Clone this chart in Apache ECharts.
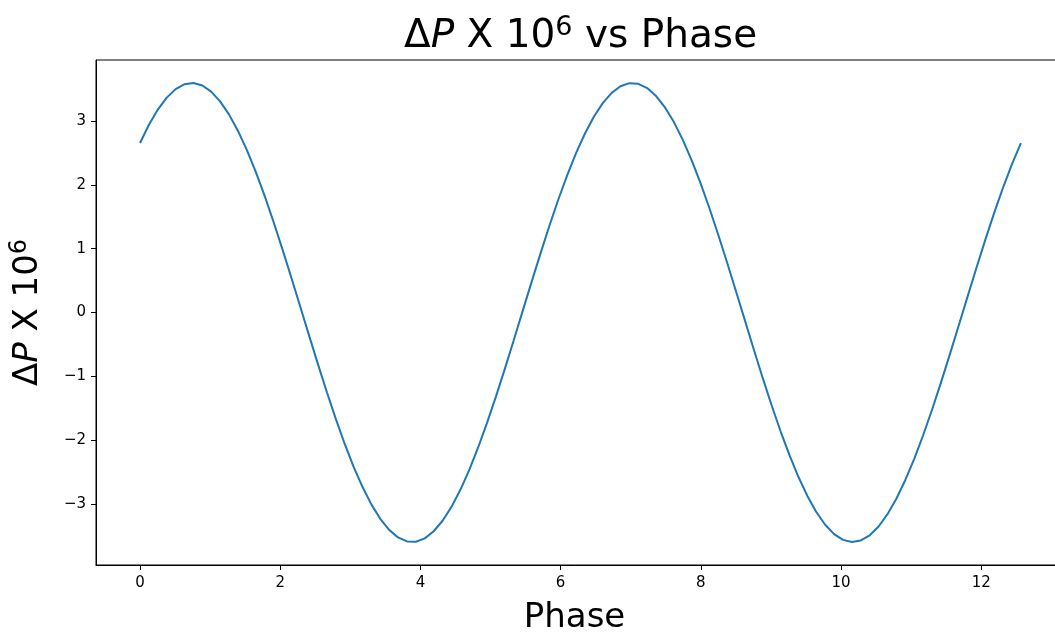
<!DOCTYPE html>
<html>
<head>
<meta charset="utf-8">
<script src="https://cdn.jsdelivr.net/npm/echarts@6/dist/echarts.min.js"></script>
<style>
  html, body { margin: 0; padding: 0; background: #ffffff; }
  #chart { width: 1055px; height: 633px; }
</style>
</head>
<body>
<div id="chart"></div>
<script>
// Phase samples (radians, 0 … 4π) and the pressure change ΔP (× 10^6) at each sample
const phase = [
  0.000, 0.127, 0.254, 0.381, 0.508, 0.635, 0.762, 0.889, 1.015, 1.142,
  1.269, 1.396, 1.523, 1.650, 1.777, 1.904, 2.031, 2.158, 2.285, 2.412,
  2.539, 2.666, 2.793, 2.919, 3.046, 3.173, 3.300, 3.427, 3.554, 3.681,
  3.808, 3.935, 4.062, 4.189, 4.316, 4.443, 4.570, 4.697, 4.823, 4.950,
  5.077, 5.204, 5.331, 5.458, 5.585, 5.712, 5.839, 5.966, 6.093, 6.220,
  6.347, 6.474, 6.601, 6.728, 6.854, 6.981, 7.108, 7.235, 7.362, 7.489,
  7.616, 7.743, 7.870, 7.997, 8.124, 8.251, 8.378, 8.505, 8.632, 8.758,
  8.885, 9.012, 9.139, 9.266, 9.393, 9.520, 9.647, 9.774, 9.901, 10.028,
  10.155, 10.282, 10.409, 10.536, 10.663, 10.789, 10.916, 11.043, 11.170, 11.297,
  11.424, 11.551, 11.678, 11.805, 11.932, 12.059, 12.186, 12.313, 12.440, 12.566
];
const deltaP = [
  2.658, 2.944, 3.183, 3.370, 3.503, 3.580, 3.599, 3.560, 3.464, 3.312,
  3.107, 2.852, 2.551, 2.209, 1.832, 1.424, 0.994, 0.548, 0.094, -0.363,
  -0.813, -1.251, -1.668, -2.058, -2.416, -2.734, -3.009, -3.235, -3.409, -3.528,
  -3.590, -3.595, -3.542, -3.431, -3.266, -3.048, -2.781, -2.469, -2.117, -1.732,
  -1.319, -0.884, -0.435, 0.021, 0.476, 0.924, 1.357, 1.768, 2.151, 2.499,
  2.807, 3.070, 3.283, 3.444, 3.549, 3.597, 3.587, 3.519, 3.395, 3.216,
  2.986, 2.707, 2.385, 2.024, 1.631, 1.212, 0.773, 0.322, -0.135, -0.589,
  -1.034, -1.462, -1.867, -2.242, -2.580, -2.877, -3.128, -3.328, -3.475, -3.566,
  -3.600, -3.575, -3.494, -3.356, -3.163, -2.921, -2.630, -2.298, -1.929, -1.529,
  -1.104, -0.661, -0.208, 0.249, 0.702, 1.143, 1.566, 1.964, 2.330, 2.658
];
const xTicks = [0, 2, 4, 6, 8, 10, 12];
const yTicks = [-3, -2, -1, 0, 1, 2, 3];

const FONT = 'DejaVu Sans';
const INK = '#000000';

// rich-text pieces for "ΔP X 10⁶" with an italic P and a raised 6
function mathRich(size, supSize, lh) {
  const base = { fontFamily: FONT, fontSize: size, color: INK, lineHeight: lh, fontWeight: 'normal' };
  return {
    n: base,
    i: Object.assign({}, base, { fontStyle: 'italic' }),
    s: { fontFamily: FONT, fontSize: supSize, color: INK, lineHeight: supSize, fontWeight: 'normal', verticalAlign: 'top' }
  };
}

const chart = echarts.init(document.getElementById('chart'), null, { renderer: 'canvas' });

chart.setOption({
  animation: false,
  backgroundColor: '#ffffff',
  title: {
    text: '{n|Δ}{i|P}{n| X 10}{s|6}{n| vs Phase}',
    left: 399,
    top: 9,
    textStyle: { fontWeight: 'normal', rich: mathRich(39, 27, 46) }
  },
  grid: {
    left: 96,
    top: 60,
    width: 969,
    height: 505,
    show: true,
    borderColor: INK,
    borderWidth: 1,
    containLabel: false,
    outerBoundsMode: 'none'
  },
  xAxis: {
    type: 'value',
    min: -0.628,
    max: 13.195,
    name: 'Phase',
    nameLocation: 'middle',
    nameGap: 36,
    nameTextStyle: { fontFamily: FONT, fontSize: 34, color: INK, padding: [0, 12, 0, 0] },
    axisLine: { show: true, onZero: false, lineStyle: { color: INK, width: 1 } },
    axisTick: { show: true, length: 5, lineStyle: { color: INK, width: 1 }, customValues: xTicks },
    axisLabel: {
      fontFamily: FONT, fontSize: 15, color: INK, margin: 11,
      customValues: xTicks,
      formatter: v => String(v).replace('-', '\u2212')
    },
    splitLine: { show: false }
  },
  yAxis: {
    type: 'value',
    min: -3.96,
    max: 3.96,
    name: '{n|Δ}{i|P}{n| X 10}{s|6}',
    nameLocation: 'middle',
    nameRotate: 90,
    nameGap: 48,
    nameTextStyle: { rich: mathRich(34, 24, 40) },
    axisLine: { show: true, onZero: false, lineStyle: { color: INK, width: 1 } },
    axisTick: { show: true, length: 5, lineStyle: { color: INK, width: 1 }, customValues: yTicks },
    axisLabel: {
      fontFamily: FONT, fontSize: 15, color: INK, margin: 10,
      customValues: yTicks,
      formatter: v => String(v).replace('-', '\u2212')
    },
    splitLine: { show: false }
  },
  series: [{
    type: 'line',
    data: phase.map((p, i) => [p, deltaP[i]]),
    showSymbol: false,
    smooth: false,
    lineStyle: { color: '#1f77b4', width: 2 },
    clip: true
  }]
});
</script>
</body>
</html>
